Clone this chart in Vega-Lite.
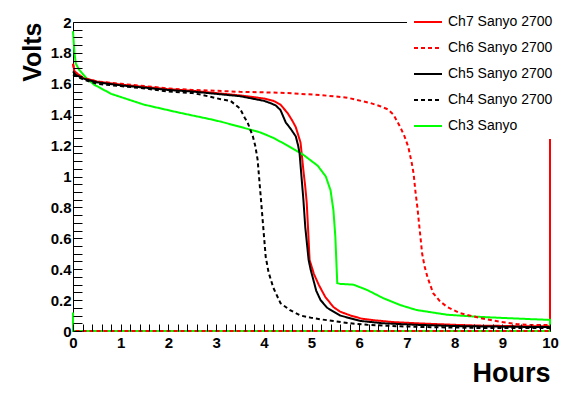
{
  "$schema": "https://vega.github.io/schema/vega-lite/v6.json",
  "width": 477,
  "height": 309,
  "autosize": "none",
  "padding": {"left": 73, "top": 22, "right": 37, "bottom": 63},
  "background": "white",
  "config": {
    "font": "Liberation Sans",
    "view": {"stroke": "black", "strokeWidth": 1},
    "axis": {"domainColor": "black", "domainWidth": 1, "tickColor": "black", "tickWidth": 1, "grid": false, "labelColor": "black", "labelFont": "Liberation Sans", "labelFontWeight": "bold", "labelFontSize": 15, "titleFont": "Liberation Sans", "titleFontWeight": "bold", "titleColor": "black", "labelOverlap": false, "labelFlush": false}
  },
  "data": {"values": [
    {"s":"Ch7 Sanyo 2700","i":0,"h":0,"v":1.73},{"s":"Ch7 Sanyo 2700","i":1,"h":0.03,"v":1.68},{"s":"Ch7 Sanyo 2700","i":2,"h":0.2,"v":1.64},{"s":"Ch7 Sanyo 2700","i":3,"h":0.5,"v":1.615},{"s":"Ch7 Sanyo 2700","i":4,"h":1,"v":1.595},{"s":"Ch7 Sanyo 2700","i":5,"h":1.5,"v":1.58},{"s":"Ch7 Sanyo 2700","i":6,"h":2,"v":1.565},{"s":"Ch7 Sanyo 2700","i":7,"h":2.5,"v":1.555},{"s":"Ch7 Sanyo 2700","i":8,"h":3,"v":1.54},{"s":"Ch7 Sanyo 2700","i":9,"h":3.5,"v":1.525},{"s":"Ch7 Sanyo 2700","i":10,"h":4,"v":1.505},{"s":"Ch7 Sanyo 2700","i":11,"h":4.2,"v":1.49},{"s":"Ch7 Sanyo 2700","i":12,"h":4.35,"v":1.465},{"s":"Ch7 Sanyo 2700","i":13,"h":4.5,"v":1.41},{"s":"Ch7 Sanyo 2700","i":14,"h":4.6,"v":1.36},{"s":"Ch7 Sanyo 2700","i":15,"h":4.67,"v":1.32},{"s":"Ch7 Sanyo 2700","i":16,"h":4.72,"v":1.27},{"s":"Ch7 Sanyo 2700","i":17,"h":4.77,"v":1.22},{"s":"Ch7 Sanyo 2700","i":18,"h":4.8,"v":1.13},{"s":"Ch7 Sanyo 2700","i":19,"h":4.83,"v":1.04},{"s":"Ch7 Sanyo 2700","i":20,"h":4.87,"v":0.93},{"s":"Ch7 Sanyo 2700","i":21,"h":4.9,"v":0.83},{"s":"Ch7 Sanyo 2700","i":22,"h":4.93,"v":0.65},{"s":"Ch7 Sanyo 2700","i":23,"h":4.96,"v":0.46},{"s":"Ch7 Sanyo 2700","i":24,"h":5.05,"v":0.37},{"s":"Ch7 Sanyo 2700","i":25,"h":5.15,"v":0.3},{"s":"Ch7 Sanyo 2700","i":26,"h":5.29,"v":0.22},{"s":"Ch7 Sanyo 2700","i":27,"h":5.46,"v":0.155},{"s":"Ch7 Sanyo 2700","i":28,"h":5.6,"v":0.125},{"s":"Ch7 Sanyo 2700","i":29,"h":5.82,"v":0.1},{"s":"Ch7 Sanyo 2700","i":30,"h":6.05,"v":0.08},{"s":"Ch7 Sanyo 2700","i":31,"h":6.3,"v":0.07},{"s":"Ch7 Sanyo 2700","i":32,"h":6.7,"v":0.058},{"s":"Ch7 Sanyo 2700","i":33,"h":7.2,"v":0.05},{"s":"Ch7 Sanyo 2700","i":34,"h":7.6,"v":0.045},{"s":"Ch7 Sanyo 2700","i":35,"h":8,"v":0.04},{"s":"Ch7 Sanyo 2700","i":36,"h":8.5,"v":0.035},{"s":"Ch7 Sanyo 2700","i":37,"h":9,"v":0.033},{"s":"Ch7 Sanyo 2700","i":38,"h":9.5,"v":0.03},{"s":"Ch7 Sanyo 2700","i":39,"h":10,"v":0.03},{"s":"Ch7 Sanyo 2700","i":40,"h":10,"v":1.25},{"s":"Ch7 Sanyo 2700","i":41,"h":10,"v":0},

    {"s":"Ch3 Sanyo","i":0,"h":0,"v":1.94},{"s":"Ch3 Sanyo","i":1,"h":0.03,"v":1.8},{"s":"Ch3 Sanyo","i":2,"h":0.06,"v":1.73},{"s":"Ch3 Sanyo","i":3,"h":0.13,"v":1.69},{"s":"Ch3 Sanyo","i":4,"h":0.27,"v":1.64},{"s":"Ch3 Sanyo","i":5,"h":0.44,"v":1.595},{"s":"Ch3 Sanyo","i":6,"h":0.8,"v":1.535},{"s":"Ch3 Sanyo","i":7,"h":1.49,"v":1.465},{"s":"Ch3 Sanyo","i":8,"h":2.2,"v":1.415},{"s":"Ch3 Sanyo","i":9,"h":2.89,"v":1.37},{"s":"Ch3 Sanyo","i":10,"h":3.1,"v":1.355},{"s":"Ch3 Sanyo","i":11,"h":3.58,"v":1.315},{"s":"Ch3 Sanyo","i":12,"h":3.93,"v":1.285},{"s":"Ch3 Sanyo","i":13,"h":4.2,"v":1.25},{"s":"Ch3 Sanyo","i":14,"h":4.5,"v":1.2},{"s":"Ch3 Sanyo","i":15,"h":4.83,"v":1.14},{"s":"Ch3 Sanyo","i":16,"h":5.13,"v":1.07},{"s":"Ch3 Sanyo","i":17,"h":5.3,"v":1.0},{"s":"Ch3 Sanyo","i":18,"h":5.4,"v":0.91},{"s":"Ch3 Sanyo","i":19,"h":5.46,"v":0.78},{"s":"Ch3 Sanyo","i":20,"h":5.5,"v":0.61},{"s":"Ch3 Sanyo","i":21,"h":5.52,"v":0.46},{"s":"Ch3 Sanyo","i":22,"h":5.54,"v":0.31},{"s":"Ch3 Sanyo","i":23,"h":5.6,"v":0.305},{"s":"Ch3 Sanyo","i":24,"h":5.88,"v":0.3},{"s":"Ch3 Sanyo","i":25,"h":6.17,"v":0.265},{"s":"Ch3 Sanyo","i":26,"h":6.5,"v":0.213},{"s":"Ch3 Sanyo","i":27,"h":6.86,"v":0.168},{"s":"Ch3 Sanyo","i":28,"h":7.2,"v":0.136},{"s":"Ch3 Sanyo","i":29,"h":7.85,"v":0.105},{"s":"Ch3 Sanyo","i":30,"h":8.5,"v":0.092},{"s":"Ch3 Sanyo","i":31,"h":8.9,"v":0.086},{"s":"Ch3 Sanyo","i":32,"h":9.58,"v":0.077},{"s":"Ch3 Sanyo","i":33,"h":10,"v":0.072},{"s":"Ch3 Sanyo","i":34,"h":10,"v":0},{"s":"Ch3 Sanyo","i":35,"h":0,"v":0},{"s":"Ch3 Sanyo","i":36,"h":0,"v":0.12},

    {"s":"Ch6 Sanyo 2700","i":0,"h":0,"v":1.73},{"s":"Ch6 Sanyo 2700","i":1,"h":0.03,"v":1.68},{"s":"Ch6 Sanyo 2700","i":2,"h":0.2,"v":1.64},{"s":"Ch6 Sanyo 2700","i":3,"h":0.5,"v":1.615},{"s":"Ch6 Sanyo 2700","i":4,"h":1,"v":1.6},{"s":"Ch6 Sanyo 2700","i":5,"h":1.5,"v":1.585},{"s":"Ch6 Sanyo 2700","i":6,"h":2,"v":1.57},{"s":"Ch6 Sanyo 2700","i":7,"h":2.5,"v":1.56},{"s":"Ch6 Sanyo 2700","i":8,"h":3,"v":1.555},{"s":"Ch6 Sanyo 2700","i":9,"h":3.5,"v":1.548},{"s":"Ch6 Sanyo 2700","i":10,"h":4,"v":1.545},{"s":"Ch6 Sanyo 2700","i":11,"h":4.5,"v":1.54},{"s":"Ch6 Sanyo 2700","i":12,"h":5.2,"v":1.527},{"s":"Ch6 Sanyo 2700","i":13,"h":5.75,"v":1.51},{"s":"Ch6 Sanyo 2700","i":14,"h":6.23,"v":1.476},{"s":"Ch6 Sanyo 2700","i":15,"h":6.44,"v":1.455},{"s":"Ch6 Sanyo 2700","i":16,"h":6.6,"v":1.435},{"s":"Ch6 Sanyo 2700","i":17,"h":6.72,"v":1.4},{"s":"Ch6 Sanyo 2700","i":18,"h":6.86,"v":1.32},{"s":"Ch6 Sanyo 2700","i":19,"h":6.95,"v":1.26},{"s":"Ch6 Sanyo 2700","i":20,"h":7.03,"v":1.19},{"s":"Ch6 Sanyo 2700","i":21,"h":7.1,"v":1.09},{"s":"Ch6 Sanyo 2700","i":22,"h":7.14,"v":1.02},{"s":"Ch6 Sanyo 2700","i":23,"h":7.18,"v":0.9},{"s":"Ch6 Sanyo 2700","i":24,"h":7.22,"v":0.8},{"s":"Ch6 Sanyo 2700","i":25,"h":7.27,"v":0.65},{"s":"Ch6 Sanyo 2700","i":26,"h":7.32,"v":0.5},{"s":"Ch6 Sanyo 2700","i":27,"h":7.37,"v":0.42},{"s":"Ch6 Sanyo 2700","i":28,"h":7.43,"v":0.35},{"s":"Ch6 Sanyo 2700","i":29,"h":7.55,"v":0.245},{"s":"Ch6 Sanyo 2700","i":30,"h":7.7,"v":0.19},{"s":"Ch6 Sanyo 2700","i":31,"h":7.85,"v":0.155},{"s":"Ch6 Sanyo 2700","i":32,"h":8.12,"v":0.115},{"s":"Ch6 Sanyo 2700","i":33,"h":8.54,"v":0.084},{"s":"Ch6 Sanyo 2700","i":34,"h":8.95,"v":0.06},{"s":"Ch6 Sanyo 2700","i":35,"h":9.3,"v":0.045},{"s":"Ch6 Sanyo 2700","i":36,"h":9.58,"v":0.039},{"s":"Ch6 Sanyo 2700","i":37,"h":10,"v":0.039},{"s":"Ch6 Sanyo 2700","i":38,"h":10,"v":0},{"s":"Ch6 Sanyo 2700","i":39,"h":0,"v":0},

    {"s":"Ch5 Sanyo 2700","i":0,"h":0,"v":1.68},{"s":"Ch5 Sanyo 2700","i":1,"h":0.05,"v":1.66},{"s":"Ch5 Sanyo 2700","i":2,"h":0.2,"v":1.635},{"s":"Ch5 Sanyo 2700","i":3,"h":0.5,"v":1.61},{"s":"Ch5 Sanyo 2700","i":4,"h":1,"v":1.59},{"s":"Ch5 Sanyo 2700","i":5,"h":1.5,"v":1.575},{"s":"Ch5 Sanyo 2700","i":6,"h":2,"v":1.56},{"s":"Ch5 Sanyo 2700","i":7,"h":2.5,"v":1.55},{"s":"Ch5 Sanyo 2700","i":8,"h":3,"v":1.535},{"s":"Ch5 Sanyo 2700","i":9,"h":3.5,"v":1.52},{"s":"Ch5 Sanyo 2700","i":10,"h":4,"v":1.49},{"s":"Ch5 Sanyo 2700","i":11,"h":4.14,"v":1.475},{"s":"Ch5 Sanyo 2700","i":12,"h":4.25,"v":1.46},{"s":"Ch5 Sanyo 2700","i":13,"h":4.35,"v":1.43},{"s":"Ch5 Sanyo 2700","i":14,"h":4.46,"v":1.35},{"s":"Ch5 Sanyo 2700","i":15,"h":4.56,"v":1.31},{"s":"Ch5 Sanyo 2700","i":16,"h":4.67,"v":1.26},{"s":"Ch5 Sanyo 2700","i":17,"h":4.72,"v":1.2},{"s":"Ch5 Sanyo 2700","i":18,"h":4.75,"v":1.15},{"s":"Ch5 Sanyo 2700","i":19,"h":4.79,"v":1.0},{"s":"Ch5 Sanyo 2700","i":20,"h":4.83,"v":0.85},{"s":"Ch5 Sanyo 2700","i":21,"h":4.87,"v":0.67},{"s":"Ch5 Sanyo 2700","i":22,"h":4.91,"v":0.55},{"s":"Ch5 Sanyo 2700","i":23,"h":4.94,"v":0.46},{"s":"Ch5 Sanyo 2700","i":24,"h":4.98,"v":0.4},{"s":"Ch5 Sanyo 2700","i":25,"h":5.04,"v":0.33},{"s":"Ch5 Sanyo 2700","i":26,"h":5.1,"v":0.26},{"s":"Ch5 Sanyo 2700","i":27,"h":5.19,"v":0.2},{"s":"Ch5 Sanyo 2700","i":28,"h":5.33,"v":0.15},{"s":"Ch5 Sanyo 2700","i":29,"h":5.6,"v":0.1},{"s":"Ch5 Sanyo 2700","i":30,"h":6.03,"v":0.065},{"s":"Ch5 Sanyo 2700","i":31,"h":6.5,"v":0.05},{"s":"Ch5 Sanyo 2700","i":32,"h":7.2,"v":0.04},{"s":"Ch5 Sanyo 2700","i":33,"h":8,"v":0.032},{"s":"Ch5 Sanyo 2700","i":34,"h":9,"v":0.028},{"s":"Ch5 Sanyo 2700","i":35,"h":10,"v":0.025},

    {"s":"Ch4 Sanyo 2700","i":0,"h":0,"v":1.66},{"s":"Ch4 Sanyo 2700","i":1,"h":0.2,"v":1.63},{"s":"Ch4 Sanyo 2700","i":2,"h":0.5,"v":1.6},{"s":"Ch4 Sanyo 2700","i":3,"h":1,"v":1.585},{"s":"Ch4 Sanyo 2700","i":4,"h":1.5,"v":1.57},{"s":"Ch4 Sanyo 2700","i":5,"h":2,"v":1.55},{"s":"Ch4 Sanyo 2700","i":6,"h":2.5,"v":1.54},{"s":"Ch4 Sanyo 2700","i":7,"h":2.68,"v":1.53},{"s":"Ch4 Sanyo 2700","i":8,"h":3.1,"v":1.5},{"s":"Ch4 Sanyo 2700","i":9,"h":3.3,"v":1.49},{"s":"Ch4 Sanyo 2700","i":10,"h":3.5,"v":1.44},{"s":"Ch4 Sanyo 2700","i":11,"h":3.6,"v":1.38},{"s":"Ch4 Sanyo 2700","i":12,"h":3.66,"v":1.35},{"s":"Ch4 Sanyo 2700","i":13,"h":3.77,"v":1.26},{"s":"Ch4 Sanyo 2700","i":14,"h":3.82,"v":1.2},{"s":"Ch4 Sanyo 2700","i":15,"h":3.87,"v":1.11},{"s":"Ch4 Sanyo 2700","i":16,"h":3.93,"v":0.89},{"s":"Ch4 Sanyo 2700","i":17,"h":3.97,"v":0.74},{"s":"Ch4 Sanyo 2700","i":18,"h":4.04,"v":0.48},{"s":"Ch4 Sanyo 2700","i":19,"h":4.1,"v":0.38},{"s":"Ch4 Sanyo 2700","i":20,"h":4.2,"v":0.28},{"s":"Ch4 Sanyo 2700","i":21,"h":4.35,"v":0.18},{"s":"Ch4 Sanyo 2700","i":22,"h":4.55,"v":0.135},{"s":"Ch4 Sanyo 2700","i":23,"h":4.77,"v":0.1},{"s":"Ch4 Sanyo 2700","i":24,"h":5.0,"v":0.085},{"s":"Ch4 Sanyo 2700","i":25,"h":5.2,"v":0.075},{"s":"Ch4 Sanyo 2700","i":26,"h":5.46,"v":0.065},{"s":"Ch4 Sanyo 2700","i":27,"h":5.8,"v":0.05},{"s":"Ch4 Sanyo 2700","i":28,"h":6.17,"v":0.04},{"s":"Ch4 Sanyo 2700","i":29,"h":6.86,"v":0.03},{"s":"Ch4 Sanyo 2700","i":30,"h":7.5,"v":0.025},{"s":"Ch4 Sanyo 2700","i":31,"h":8.5,"v":0.02},{"s":"Ch4 Sanyo 2700","i":32,"h":10,"v":0.02}
  ]},
  "mark": {"type": "line", "strokeWidth": 2},
  "encoding": {
    "x": {"field": "h", "type": "quantitative",
      "scale": {"domain": [0, 10], "nice": false, "zero": false},
      "axis": {
        "orient": "bottom",
        "offset": -7,
        "domain": false,
        "zindex": 1,
        "values": [0,0.2,0.4,0.6,0.8,1,1.2,1.4,1.6,1.8,2,2.2,2.4,2.6,2.8,3,3.2,3.4,3.6,3.8,4,4.2,4.4,4.6,4.8,5,5.2,5.4,5.6,5.8,6,6.2,6.4,6.6,6.8,7,7.2,7.4,7.6,7.8,8,8.2,8.4,8.6,8.8,9,9.2,9.4,9.6,9.8,10],
        "labelExpr": "abs(datum.value - round(datum.value)) < 0.001 ? format(datum.value, 'd') : ''",
        "tickSize": 7, "tickColor": "#000000",
        "labelPadding": 4,
        "labelOverlap": false,
        "title": "Hours", "titleFontSize": 27, "titleAlign": "right",
        "titleX": 477, "titleY": 57, "titleBaseline": "alphabetic"
      }
    },
    "y": {"field": "v", "type": "quantitative",
      "scale": {"domain": [0, 2], "nice": false, "zero": false},
      "axis": {
        "orient": "left",
        "offset": -9,
        "domain": false,
        "zindex": 1,
        "values": [0,0.05,0.1,0.15,0.2,0.25,0.3,0.35,0.4,0.45,0.5,0.55,0.6,0.65,0.7,0.75,0.8,0.85,0.9,0.95,1,1.05,1.1,1.15,1.2,1.25,1.3,1.35,1.4,1.45,1.5,1.55,1.6,1.65,1.7,1.75,1.8,1.85,1.9,1.95,2],
        "labelExpr": "abs(datum.value*5 - round(datum.value*5)) < 0.001 ? format(datum.value, '~g') : ''",
        "tickSize": 9, "tickColor": "#000000",
        "labelPadding": 2,
        "labelOverlap": false,
        "title": "Volts", "titleFontSize": 25, "titleAlign": "right", "titleAngle": -90,
        "titleX": -42, "titleY": 0, "titleBaseline": "alphabetic"
      }
    },
    "order": {"field": "i", "type": "quantitative"},
    "color": {"field": "s", "type": "nominal",
      "scale": {"domain": ["Ch7 Sanyo 2700","Ch6 Sanyo 2700","Ch5 Sanyo 2700","Ch4 Sanyo 2700","Ch3 Sanyo"], "range": ["#ff0000","#ff0000","#000000","#000000","#00ff00"]},
      "legend": {"title": null, "orient": "none", "legendX": 334, "legendY": -21, "fillColor": "white", "padding": 6, "symbolType": "stroke", "symbolSize": 784, "symbolStrokeWidth": 2, "labelFontSize": 14, "labelOffset": 5, "rowPadding": 4}
    },
    "strokeDash": {"field": "s", "type": "nominal",
      "scale": {"domain": ["Ch7 Sanyo 2700","Ch6 Sanyo 2700","Ch5 Sanyo 2700","Ch4 Sanyo 2700","Ch3 Sanyo"], "range": [[1,0],[4,3],[1,0],[4,3],[1,0]]},
      "legend": {"title": null}
    }
  }
}
